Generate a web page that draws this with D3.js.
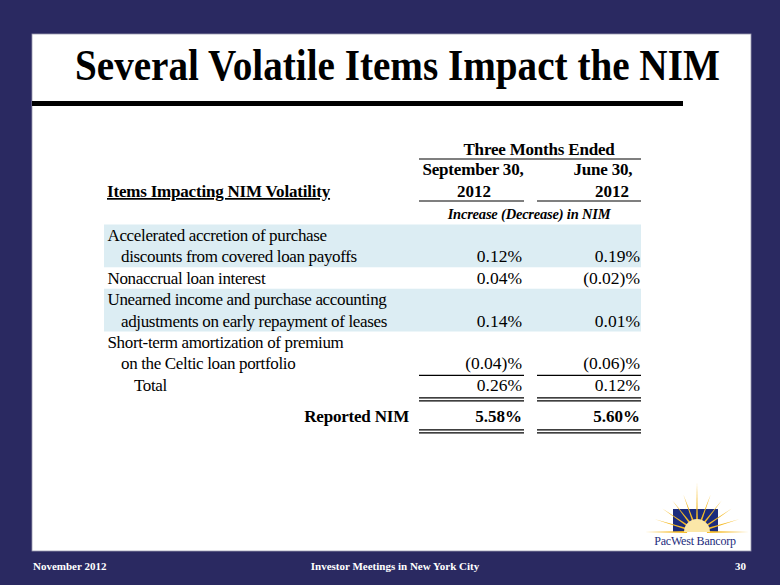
<!DOCTYPE html>
<html><head><meta charset="utf-8">
<script src="https://cdn.jsdelivr.net/npm/d3@7"></script>
<style>html,body{margin:0;padding:0;background:#2a2961;}svg{display:block;}</style>
</head><body>
<svg id="c" width="780" height="585"></svg>
<script>
const title = "Several Volatile Items Impact the NIM";
const periods = ["September 30,", "June 30,"];
const periodYears = ["2012", "2012"];
const groupHeader = "Three Months Ended";
const rowHeader = "Items Impacting NIM Volatility";
const unitLabel = "Increase (Decrease) in NIM";
const itemLabels = [
  ["Accelerated accretion of purchase", "discounts from covered loan payoffs"],
  ["Nonaccrual loan interest"],
  ["Unearned income and purchase accounting", "adjustments on early repayment of leases"],
  ["Short-term amortization of premium", "on the Celtic loan portfolio"]
];
const sepValues = ["0.12%", "0.04%", "0.14%", "(0.04)%"];
const junValues = ["0.19%", "(0.02)%", "0.01%", "(0.06)%"];
const totalLabel = "Total";
const totalValues = ["0.26%", "0.12%"];
const reportedLabel = "Reported NIM";
const reportedValues = ["5.58%", "5.60%"];
const footerLeft = "November 2012";
const footerCenter = "Investor Meetings in New York City";
const pageNumber = "30";
const logoText = "PacWest Bancorp";

const svg = d3.select("#c");
const navy = "#2a2961";
const serif = "'Liberation Serif','Times New Roman',serif";

svg.append("rect").attr("width", 780).attr("height", 585).attr("fill", navy);
svg.append("rect").attr("x", 32).attr("y", 34).attr("width", 719).attr("height", 517)
  .attr("fill", "#fff").attr("stroke", "#9a9ab0").attr("stroke-width", 0.8);

// title (condensed horizontally to the slide's width)
const tG = svg.append("g");
const tT = tG.append("text").attr("x", 0).attr("y", 0).attr("font-family", serif).attr("font-weight", "bold")
  .attr("font-size", 45).attr("fill", "#000").text(title);
const tw = tT.node().getComputedTextLength();
tG.attr("transform", `translate(75,80) scale(${645 / tw},1)`);
svg.append("rect").attr("x", 32).attr("y", 101).attr("width", 651).attr("height", 5).attr("fill", "#000");

// line scale: index of text line -> baseline
const lineY = d3.scaleLinear().domain([0, 1]).range([241, 262.4]);
const lineStep = lineY(1) - lineY(0);

let li = 0;
const rows = itemLabels.map((lbls, i) => {
  const r = {labels: lbls, start: li, sep: sepValues[i], jun: junValues[i], shaded: i % 2 === 0};
  li += lbls.length;
  return r;
});
const nLines = li;

// column extents (rules) and value right edges
const colX = d3.scaleOrdinal().domain([0, 1]).range([[419, 524], [537, 641]]);
const valX = d3.scaleOrdinal().domain([0, 1]).range([522, 640]);

const g = svg.append("g").attr("font-family", serif).attr("fill", "#000");

g.selectAll("rect.band").data(rows.filter(r => r.shaded)).join("rect").attr("class", "band")
  .attr("x", 104).attr("width", 537)
  .attr("y", r => lineY(r.start) - 16.5)
  .attr("height", r => r.labels.length * lineStep)
  .attr("fill", "#dcedf3");

// header
g.append("text").attr("x", 539).attr("y", 155).attr("text-anchor", "middle")
  .attr("font-weight", "bold").attr("font-size", 17).attr("letter-spacing", -0.2).text(groupHeader);
g.append("line").attr("x1", 419).attr("x2", 641).attr("y1", 159).attr("y2", 159).attr("stroke", "#000").attr("stroke-width", 1.2);

const hdrCenters = [473, 603];
const yrCenters = [474, 612];
periods.forEach((p, i) => {
  g.append("text").attr("x", hdrCenters[i]).attr("y", 175).attr("text-anchor", "middle")
    .attr("font-weight", "bold").attr("font-size", 17).attr("letter-spacing", -0.2).text(p);
  g.append("text").attr("x", yrCenters[i]).attr("y", 197).attr("text-anchor", "middle")
    .attr("font-weight", "bold").attr("font-size", 17).text(periodYears[i]);
  const [a, b] = colX(i);
  g.append("line").attr("x1", a).attr("x2", b).attr("y1", 201).attr("y2", 201).attr("stroke", "#000").attr("stroke-width", 1.2);
});
g.append("text").attr("x", 107).attr("y", 197).attr("font-weight", "bold").attr("font-size", 17)
  .attr("letter-spacing", -0.2).attr("text-decoration", "underline").text(rowHeader);
g.append("text").attr("x", 529).attr("y", 219).attr("text-anchor", "middle")
  .attr("font-weight", "bold").attr("font-style", "italic").attr("font-size", 14.5).attr("letter-spacing", -0.2).text(unitLabel);

// row labels and values
rows.forEach(r => {
  r.labels.forEach((t, k) => {
    g.append("text").attr("x", k === 0 ? 107.5 : 121).attr("y", lineY(r.start + k))
      .attr("font-size", 17).attr("letter-spacing", -0.35).text(t);
  });
  const yv = lineY(r.start + r.labels.length - 1);
  [r.sep, r.jun].forEach((v, i) => {
    g.append("text").attr("x", valX(i)).attr("y", yv).attr("text-anchor", "end")
      .attr("font-size", 17.5).text(v);
  });
});

const ruleY = lineY(nLines - 1) + 6;
[0, 1].forEach(i => {
  const [a, b] = colX(i);
  g.append("line").attr("x1", a).attr("x2", b).attr("y1", ruleY).attr("y2", ruleY).attr("stroke", "#000").attr("stroke-width", 1.2);
});

const totY = lineY(nLines);
g.append("text").attr("x", 134).attr("y", totY).attr("font-size", 17).attr("letter-spacing", -0.35).text(totalLabel);
totalValues.forEach((v, i) => {
  g.append("text").attr("x", valX(i)).attr("y", totY).attr("text-anchor", "end")
    .attr("font-size", 17.5).text(v);
});
function dbl(y) {
  [0, 1].forEach(i => {
    const [a, b] = colX(i);
    [y, y + 3].forEach(yy => g.append("line").attr("x1", a).attr("x2", b).attr("y1", yy).attr("y2", yy)
      .attr("stroke", "#000").attr("stroke-width", 1.2));
  });
}
dbl(totY + 7);

const repY = totY + 31;
g.append("text").attr("x", 409).attr("y", repY).attr("text-anchor", "end").attr("font-weight", "bold")
  .attr("font-size", 17).attr("letter-spacing", -0.2).text(reportedLabel);
reportedValues.forEach((v, i) => {
  g.append("text").attr("x", valX(i)).attr("y", repY).attr("text-anchor", "end")
    .attr("font-weight", "bold").attr("font-size", 17).text(v);
});
dbl(repY + 8);

// footer
const f = svg.append("g").attr("font-family", serif).attr("font-weight", "bold").attr("font-size", 11).attr("fill", "#fff");
f.append("text").attr("x", 33).attr("y", 570).text(footerLeft);
f.append("text").attr("x", 395).attr("y", 570).attr("text-anchor", "middle").text(footerCenter);
f.append("text").attr("x", 746).attr("y", 570).attr("text-anchor", "end").text(pageNumber);

// logo
const lg = svg.append("g");
const cx = 697, cy = 532;
const rays = [[180, 52], [163, 44], [146, 42], [128, 40], [110, 40], [90, 50], [70, 40], [52, 40], [34, 42], [17, 44], [0, 52]];
lg.append("rect").attr("x", 673).attr("y", 509).attr("width", 45).attr("height", 23).attr("fill", "#1c2c7c");
rays.forEach(([a, len]) => {
  const rad = a * Math.PI / 180;
  const w = 0.09, r0 = 10;
  const p = [
    [cx + r0 * Math.cos(rad - w), cy - r0 * Math.sin(rad - w)],
    [cx + len * Math.cos(rad), cy - len * Math.sin(rad)],
    [cx + r0 * Math.cos(rad + w), cy - r0 * Math.sin(rad + w)]
  ];
  lg.append("polygon").attr("points", p.map(q => q.join(",")).join(" ")).attr("fill", "#f5bb27");
});
lg.append("path").attr("d", d3.arc()({innerRadius: 0, outerRadius: 13, startAngle: -Math.PI / 2, endAngle: Math.PI / 2}))
  .attr("transform", `translate(${cx},${cy})`).attr("fill", "#fbe7a8");
lg.append("text").attr("x", 695).attr("y", 545).attr("text-anchor", "middle").attr("font-family", serif)
  .attr("font-size", 12).attr("letter-spacing", -0.2).attr("fill", "#1c2c7c").text(logoText);
</script>
</body></html>
